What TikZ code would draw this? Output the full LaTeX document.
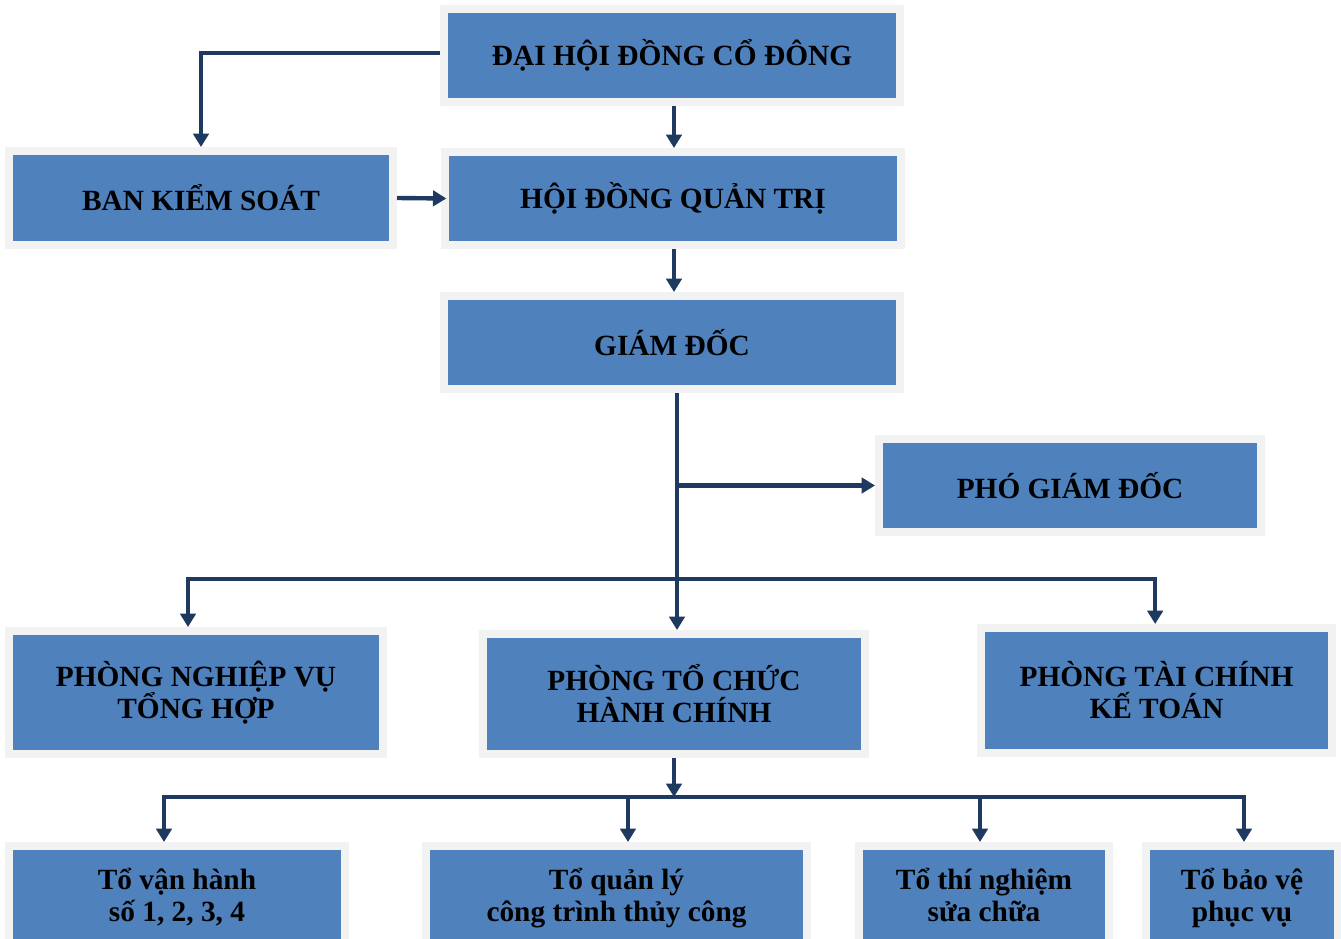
\documentclass[tikz,border=0pt]{standalone}
\usepackage{fontspec}
\setmainfont{Liberation Serif}
\usetikzlibrary{arrows.meta}
\definecolor{boxblue}{HTML}{4F81BD}
\definecolor{boxrim}{HTML}{F2F2F2}
\definecolor{linkblue}{HTML}{1F3A60}
\tikzset{
  unit/.style={rectangle, fill=boxblue, draw=boxrim, line width=6pt, inner sep=0pt,
    align=center, font=\fontsize{22}{24}\selectfont\bfseries, text=black},
  team/.style={unit, minimum height=72.75pt, text height=40.5pt, text depth=0pt},
  link/.style={draw=linkblue, line width=3.3pt},
  arr/.style={link, -{Triangle[width=11.5pt,length=10pt]}},
  arrtwo/.style={link, {Triangle[width=11.5pt,length=10pt]}-{Triangle[width=11.5pt,length=10pt]}}
}
\begin{document}
\begin{tikzpicture}[x=0.75pt,y=-0.75pt]
\useasboundingbox (0,0) rectangle (1341,938);
\clip (0,0) rectangle (1341,938);
\fill[white] (0,0) rectangle (1341,938);
% boxes
\node[unit, minimum width=342pt, minimum height=69.75pt] (dh) at (672,55.5) {ĐẠI HỘI ĐỒNG CỔ ĐÔNG};
\node[unit, minimum width=288pt, minimum height=70.5pt] (bks) at (201,198) {BAN KIỂM SOÁT};
\node[unit, minimum width=342pt, minimum height=69.75pt] (hdqt) at (673,198.5) {HỘI ĐỒNG QUẢN TRỊ};
\node[unit, minimum width=342pt, minimum height=69.75pt] (gd) at (672,342.5) {GIÁM ĐỐC};
\node[unit, minimum width=286.5pt, minimum height=69.75pt] (pgd) at (1070,485.5) {PHÓ GIÁM ĐỐC};
\node[unit, minimum width=280.5pt, minimum height=92.25pt] (pnv) at (196,692.5) {PHÒNG NGHIỆP VỤ\\TỔNG HỢP};
\node[unit, minimum width=286.5pt, minimum height=90pt] (ptc) at (674,694) {PHÒNG TỔ CHỨC\\HÀNH CHÍNH};
\node[unit, minimum width=263.25pt, minimum height=93.75pt] (ptck) at (1156.5,690.5) {PHÒNG TÀI CHÍNH\\KẾ TOÁN};
\node[team, minimum width=252pt] (tvh) at (177,894.5) {Tổ vận hành\\số 1, 2, 3, 4};
\node[team, minimum width=285.75pt] (tql) at (616.5,894.5) {Tổ quản lý\\công trình thủy công};
\node[team, minimum width=187.5pt] (ttn) at (984,894.5) {Tổ thí nghiệm\\sửa chữa};
\node[team, minimum width=144pt] (tbv) at (1242,894.5) {Tổ bảo vệ\\phục vụ};
% helper coordinates
\coordinate (trunk) at ([xshift=3.75pt]gd.south);
\coordinate (busone) at (677,579);
\coordinate (bustwo) at (675,797);
% connectors
\draw[arr] ([yshift=1.9pt]dh.west) -| (bks.north);
\draw[arr] ([xshift=1.5pt]dh.south) -- ([xshift=1.5pt]dh.south |- hdqt.north);
\draw[arr] (bks.east) -- ([xshift=4pt]hdqt.west);
\draw[arr] ([xshift=0.75pt]hdqt.south) -- ([xshift=0.75pt]hdqt.south |- gd.north);
\draw[arr] (trunk) -- ([xshift=2.25pt]ptc.north);
\draw[arr] (trunk |- pgd.west) -- (pgd.west);
\draw[arrtwo] ([xshift=-6pt]pnv.north) |- ([xshift=-1pt]ptck.north |- busone) -- ([xshift=-1pt]ptck.north);
\draw[arr] (ptc.south) -- (ptc.south |- bustwo);
\draw[arrtwo] ([xshift=-9.75pt]tvh.north) |- ([xshift=1.5pt]tbv.north |- bustwo) -- ([xshift=1.5pt]tbv.north);
\draw[arr] ([xshift=8.6pt]tql.north |- bustwo) -- ([xshift=8.6pt]tql.north);
\draw[arr] ([xshift=-3pt]ttn.north |- bustwo) -- ([xshift=-3pt]ttn.north);
\end{tikzpicture}
\end{document}
